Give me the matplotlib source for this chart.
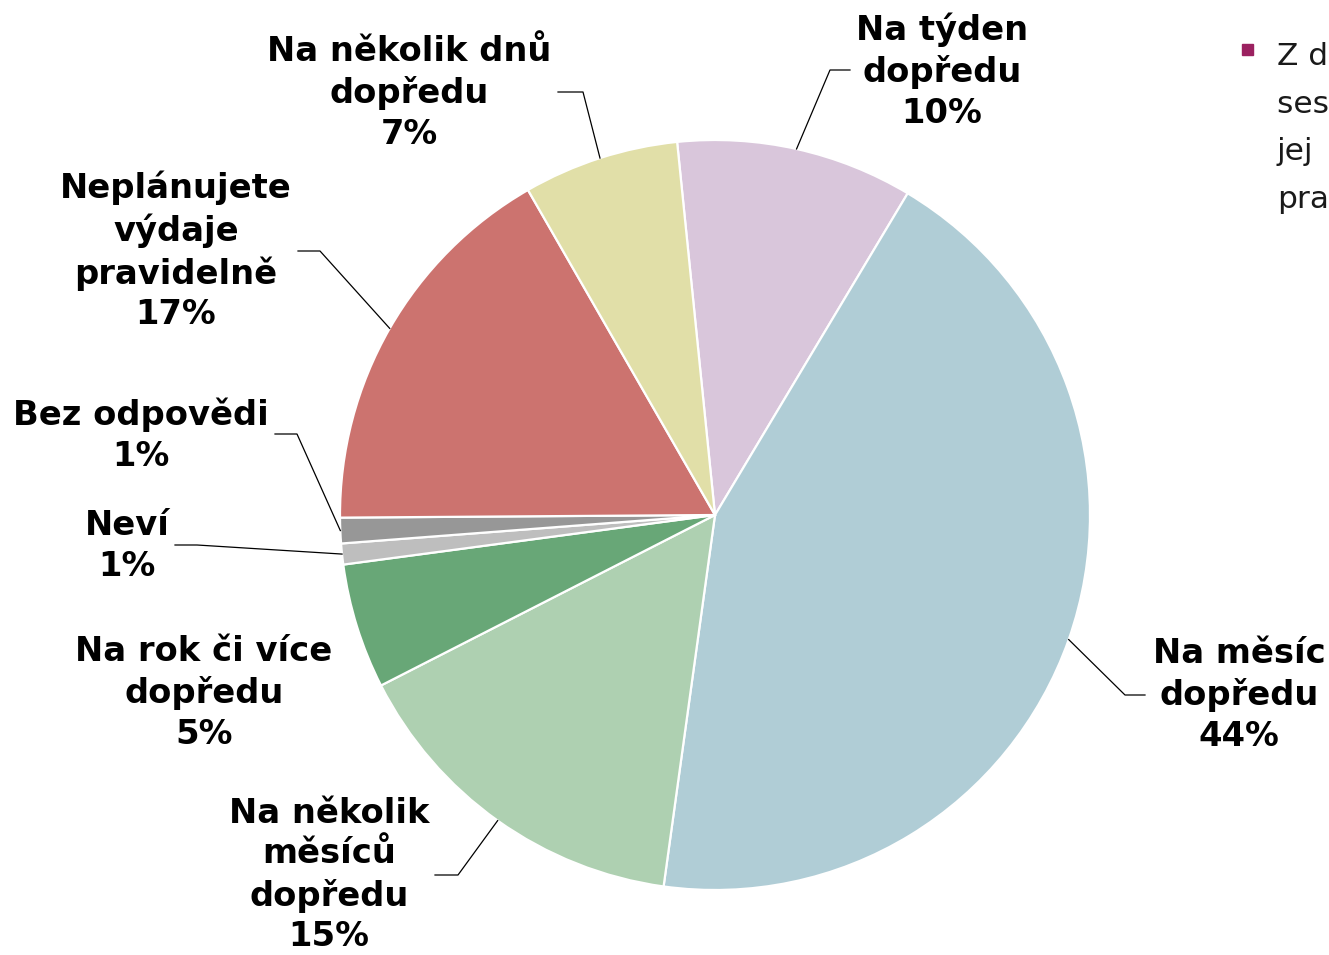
import matplotlib
matplotlib.use('Agg')
import numpy as np
import matplotlib.pyplot as plt

# data (order clockwise from the top)
labels = ['Na týden\ndopředu', 'Na měsíc\ndopředu', 'Na několik\nměsíců\ndopředu',
          'Na rok či více\ndopředu', 'Neví', 'Bez odpovědi',
          'Neplánujete\nvýdaje\npravidelně', 'Na několik dnů\ndopředu']
values = [10.2, 43.6, 15.3, 5.4, 0.9, 1.1, 16.8, 6.7]
pct_text = ['10%', '44%', '15%', '5%', '1%', '1%', '17%', '7%']
colors = ['#D9C6DB', '#B0CDD6', '#AED0B1', '#68A777', '#BEBEBE', '#979797',
          '#CC736F', '#E1DFA8']

# label placement in picture pixels (x, y from top), elbow of leader line
label_pos = [(942, 71), (1239, 695), (329, 875), (204, 693), (127, 546),
             (141, 435), (176, 251), (409, 93)]
elbows = [((830, 70), (850, 70)), ((1125, 695), (1145, 695)),
          ((458, 875), (435, 875)), None, ((197, 545), (175, 545)),
          ((297, 434), (275, 434)), ((320, 251), (298, 251)),
          ((583, 92), (558, 92))]

W, H = 1329, 955
fig = plt.figure(figsize=(W / 100, H / 100), dpi=100)
ax = fig.add_axes([0, 0, 1, 1])

cx, cy, R = 715, H - 515, 375

wedges, _ = ax.pie(values, colors=colors, startangle=95.8, counterclock=False,
                   radius=R, center=(cx, cy), frame=True,
                   wedgeprops=dict(edgecolor='white', linewidth=1.6))
ax.set_xlim(0, W)
ax.set_ylim(0, H)
ax.set_aspect('equal')
ax.axis('off')

for w, lab, pct, pos, elb in zip(wedges, labels, pct_text, label_pos, elbows):
    ax.text(pos[0], H - pos[1], lab + '\n' + pct, ha='center', va='center',
            fontsize=24.3, fontweight='bold', family='DejaVu Sans',
            linespacing=1.3, color='black')
    if elb is not None:
        mid = np.deg2rad((w.theta1 + w.theta2) / 2)
        px, py = cx + R * np.cos(mid), cy + R * np.sin(mid)
        xs = [px, elb[0][0], elb[1][0]]
        ys = [py, H - elb[0][1], H - elb[1][1]]
        ax.plot(xs, ys, color='black', linewidth=0.9)

# legend, cut off at the right edge like in the original
ax.add_patch(plt.Rectangle((1242, H - 55), 11, 11, color='#9B2160'))
legend_text = 'Z dlouhodobého hlediska\nses  tavujete rozpočet a\njej  také dodržujete\npravidelně'
ax.text(1277, H - 42, legend_text, ha='left', va='top', fontsize=22.5,
        family='DejaVu Sans', color='#1A1A1A', linespacing=1.7)

fig.savefig('out.png', dpi=100)
